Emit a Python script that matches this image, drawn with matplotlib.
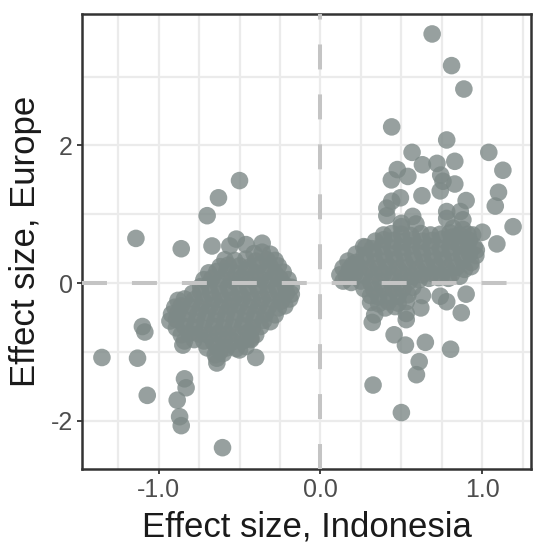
import matplotlib
matplotlib.use("Agg")
import matplotlib.pyplot as plt
import numpy as np

plt.rcParams["font.family"] = ["Liberation Sans", "DejaVu Sans"]

# effect sizes (Indonesia, Europe) for variants with negative Indonesian effect
left_scatter = [
    (-0.50, 1.49), (-0.63, 1.24), (-0.70, 0.98), (-1.14, 0.65), (-0.86, 0.50),
    (-0.67, 0.54), (-0.56, 0.54), (-0.52, 0.64), (-0.46, 0.56), (-0.36, 0.58),
    (-1.10, -0.63), (-1.085, -0.71), (-1.35, -1.08), (-1.13, -1.09), (-1.07, -1.63),
    (-0.84, -1.39), (-0.83, -1.52), (-0.885, -1.70), (-0.87, -1.94), (-0.86, -2.07),
    (-0.605, -2.39), (-0.40, -1.08), (-0.64, -1.16), (-0.64, -1.09), (-0.85, -0.90),
    (-0.50, -0.97), (-0.43, -0.80), (-0.62, -0.99),
]
left_core = [
    (-0.41, 0.43), (-0.36, 0.45), (-0.31, 0.42),
    (-0.59, 0.34), (-0.53, 0.33), (-0.46, 0.35), (-0.40, 0.32), (-0.33, 0.34), (-0.28, 0.33),
    (-0.62, 0.24), (-0.57, 0.26), (-0.50, 0.25), (-0.44, 0.23), (-0.38, 0.26), (-0.31, 0.24),
    (-0.26, 0.25),
    (-0.69, 0.15), (-0.64, 0.17), (-0.58, 0.16), (-0.52, 0.14), (-0.46, 0.17), (-0.40, 0.15),
    (-0.34, 0.16), (-0.28, 0.14), (-0.23, 0.16),
    (-0.72, 0.05), (-0.67, 0.07), (-0.61, 0.06), (-0.55, 0.04), (-0.49, 0.07), (-0.43, 0.05),
    (-0.37, 0.06), (-0.31, 0.04), (-0.25, 0.07), (-0.20, 0.05),
    (-0.74, -0.05), (-0.69, -0.03), (-0.63, -0.04), (-0.57, -0.06), (-0.51, -0.03),
    (-0.45, -0.05), (-0.39, -0.04), (-0.33, -0.02), (-0.27, -0.05), (-0.22, -0.03),
    (-0.18, -0.06),
    (-0.79, -0.15), (-0.74, -0.13), (-0.68, -0.14), (-0.62, -0.16), (-0.56, -0.13),
    (-0.50, -0.15), (-0.44, -0.14), (-0.38, -0.12), (-0.32, -0.15), (-0.26, -0.13),
    (-0.21, -0.14), (-0.18, -0.16),
    (-0.88, -0.25), (-0.84, -0.23), (-0.78, -0.24), (-0.72, -0.26), (-0.66, -0.23),
    (-0.60, -0.25), (-0.54, -0.24), (-0.48, -0.22), (-0.42, -0.25), (-0.36, -0.23),
    (-0.30, -0.24), (-0.24, -0.26), (-0.19, -0.23),
    (-0.90, -0.35), (-0.86, -0.33), (-0.80, -0.34), (-0.74, -0.36), (-0.68, -0.33),
    (-0.62, -0.35), (-0.56, -0.34), (-0.50, -0.32), (-0.44, -0.35), (-0.38, -0.33),
    (-0.32, -0.34), (-0.26, -0.36), (-0.22, -0.33),
    (-0.92, -0.45), (-0.88, -0.43), (-0.82, -0.44), (-0.76, -0.46), (-0.70, -0.43),
    (-0.64, -0.45), (-0.58, -0.44), (-0.52, -0.42), (-0.46, -0.45), (-0.40, -0.43),
    (-0.34, -0.44), (-0.28, -0.46),
    (-0.93, -0.55), (-0.89, -0.53), (-0.83, -0.54), (-0.77, -0.56), (-0.71, -0.53),
    (-0.65, -0.55), (-0.59, -0.54), (-0.53, -0.52), (-0.47, -0.55), (-0.41, -0.53),
    (-0.35, -0.54), (-0.31, -0.56),
    (-0.89, -0.65), (-0.84, -0.63), (-0.78, -0.64), (-0.72, -0.66), (-0.66, -0.63),
    (-0.60, -0.65), (-0.54, -0.64), (-0.48, -0.62), (-0.42, -0.65), (-0.37, -0.63),
    (-0.86, -0.75), (-0.81, -0.73), (-0.75, -0.74), (-0.69, -0.76), (-0.63, -0.73),
    (-0.57, -0.75), (-0.51, -0.74), (-0.45, -0.72), (-0.40, -0.75),
    (-0.84, -0.84), (-0.78, -0.82), (-0.72, -0.84), (-0.66, -0.86), (-0.60, -0.83),
    (-0.54, -0.85), (-0.48, -0.84), (-0.43, -0.82),
    (-0.70, -0.94), (-0.64, -0.92), (-0.58, -0.94), (-0.52, -0.95), (-0.46, -0.92),
    (-0.65, -1.04), (-0.60, -1.02),
]

# effect sizes for variants with positive Indonesian effect
right_scatter = [
    (0.69, 3.62), (0.81, 3.16), (0.886, 2.82), (0.44, 2.27), (0.78, 2.08),
    (0.566, 1.90), (1.04, 1.90), (0.63, 1.72), (0.72, 1.74), (0.83, 1.77),
    (1.127, 1.64), (0.475, 1.65), (0.54, 1.55), (0.438, 1.50), (0.743, 1.57),
    (0.757, 1.48), (0.83, 1.44), (0.74, 1.34), (1.10, 1.32), (1.08, 1.12),
    (0.627, 1.27), (0.494, 1.24), (0.44, 1.19), (0.90, 1.20), (0.78, 1.04),
    (0.864, 1.04), (0.57, 0.97), (0.41, 0.98), (0.78, 0.94), (0.88, 0.92),
    (0.59, 0.86), (0.50, 0.82), (1.19, 0.82), (1.00, 0.74), (1.09, 0.57),
    (0.267, 0.53), (0.94, 0.70), (0.815, 0.67), (0.20, 0.27), (0.963, 0.48),
    (0.93, 0.24), (0.41, 1.09), (0.50, 0.87), (0.82, 0.80), (0.88, 0.78),
    (0.90, -0.16), (0.87, -0.43), (0.78, -0.27), (0.63, -0.18), (0.62, -0.36),
    (0.53, -0.53), (0.53, -0.44), (0.32, -0.57), (0.335, -0.46), (0.455, -0.75),
    (0.525, -0.90), (0.648, -0.86), (0.804, -0.96), (0.61, -1.14), (0.593, -1.33),
    (0.325, -1.48), (0.50, -1.88), (0.74, -0.19),
]
right_core = [
    (0.39, 0.70), (0.44, 0.72), (0.50, 0.71), (0.56, 0.69), (0.62, 0.72), (0.68, 0.70),
    (0.74, 0.71), (0.80, 0.73), (0.86, 0.70), (0.91, 0.71),
    (0.34, 0.61), (0.39, 0.63), (0.45, 0.62), (0.51, 0.60), (0.57, 0.63), (0.63, 0.61),
    (0.69, 0.62), (0.75, 0.64), (0.81, 0.61), (0.87, 0.63), (0.92, 0.62),
    (0.28, 0.52), (0.32, 0.50), (0.38, 0.53), (0.44, 0.51), (0.50, 0.52), (0.56, 0.54),
    (0.62, 0.51), (0.68, 0.53), (0.74, 0.50), (0.80, 0.52), (0.86, 0.54), (0.91, 0.51),
    (0.95, 0.53),
    (0.22, 0.42), (0.27, 0.40), (0.33, 0.43), (0.39, 0.41), (0.45, 0.42), (0.51, 0.44),
    (0.57, 0.41), (0.63, 0.43), (0.69, 0.40), (0.75, 0.42), (0.81, 0.44), (0.87, 0.41),
    (0.92, 0.43), (0.96, 0.40),
    (0.17, 0.32), (0.22, 0.30), (0.28, 0.33), (0.34, 0.31), (0.40, 0.32), (0.46, 0.34),
    (0.52, 0.31), (0.58, 0.33), (0.64, 0.30), (0.70, 0.32), (0.76, 0.34), (0.82, 0.31),
    (0.88, 0.33), (0.93, 0.30),
    (0.14, 0.22), (0.18, 0.20), (0.24, 0.23), (0.30, 0.21), (0.36, 0.22), (0.42, 0.24),
    (0.48, 0.21), (0.54, 0.23), (0.60, 0.20), (0.66, 0.22), (0.72, 0.24), (0.78, 0.21),
    (0.84, 0.23), (0.89, 0.20),
    (0.12, 0.12), (0.16, 0.10), (0.21, 0.13), (0.27, 0.11), (0.33, 0.12), (0.39, 0.14),
    (0.45, 0.11), (0.51, 0.13), (0.57, 0.10), (0.63, 0.12), (0.69, 0.14), (0.75, 0.11),
    (0.81, 0.13), (0.86, 0.10),
    (0.14, 0.03), (0.19, 0.01), (0.25, 0.03), (0.31, 0.01), (0.37, 0.02), (0.43, 0.04),
    (0.49, 0.01), (0.55, 0.03), (0.61, 0.05), (0.67, 0.07), (0.73, 0.08), (0.79, 0.07),
    (0.27, -0.08), (0.33, -0.10), (0.39, -0.07), (0.45, -0.09), (0.51, -0.08),
    (0.57, -0.06),
    (0.31, -0.18), (0.36, -0.20), (0.42, -0.17), (0.48, -0.19), (0.54, -0.17),
    (0.31, -0.28), (0.36, -0.30), (0.42, -0.27), (0.48, -0.29), (0.53, -0.27),
    (0.40, -0.36), (0.46, -0.34),
]

x_breaks = [-1.0, 0.0, 1.0]
x_labels = ["-1.0", "0.0", "1.0"]
y_breaks = [-2, 0, 2]
y_labels = ["-2", "0", "2"]

points = np.array(left_scatter + left_core + right_scatter + right_core)

fig = plt.figure(figsize=(5.35, 5.51), dpi=100)
ax = fig.add_axes([0.1533, 0.1488, 0.839, 0.8258])

ax.scatter(points[:, 0], points[:, 1], s=160, c="#7d8987", alpha=0.8,
           edgecolors="none", zorder=2)

ax.axhline(0, color="#c4c4c4", lw=2.9, dashes=(6.2, 6.2), zorder=3)
ax.axvline(0, color="#c4c4c4", lw=2.9, dashes=(6.2, 6.2), zorder=3)

ax.set_xlim(-1.473, 1.30)
ax.set_ylim(-2.70, 3.91)

ax.set_xticks(x_breaks)
ax.set_xticklabels(x_labels)
ax.set_yticks(y_breaks)
ax.set_yticklabels(y_labels)
ax.set_xticks([-1.25, -0.75, -0.5, -0.25, 0.25, 0.5, 0.75, 1.25], minor=True)
ax.set_yticks([-1, 1, 3], minor=True)

ax.set_axisbelow(True)
ax.grid(True, which="both", color="#ebebeb", lw=1.6)
ax.tick_params(which="minor", length=0)
ax.tick_params(which="major", direction="out", length=3.5, width=1.3,
               color="#333333", labelsize=18, labelcolor="#4d4d4d", pad=3)

for s in ax.spines.values():
    s.set_linewidth(1.8)
    s.set_color("#333333")

ax.set_xlabel("Effect size, Indonesia", fontsize=25, color="#1a1a1a", labelpad=6)
ax.set_ylabel("Effect size, Europe", fontsize=25, color="#1a1a1a", labelpad=6)

fig.savefig("out.png", dpi=100)
